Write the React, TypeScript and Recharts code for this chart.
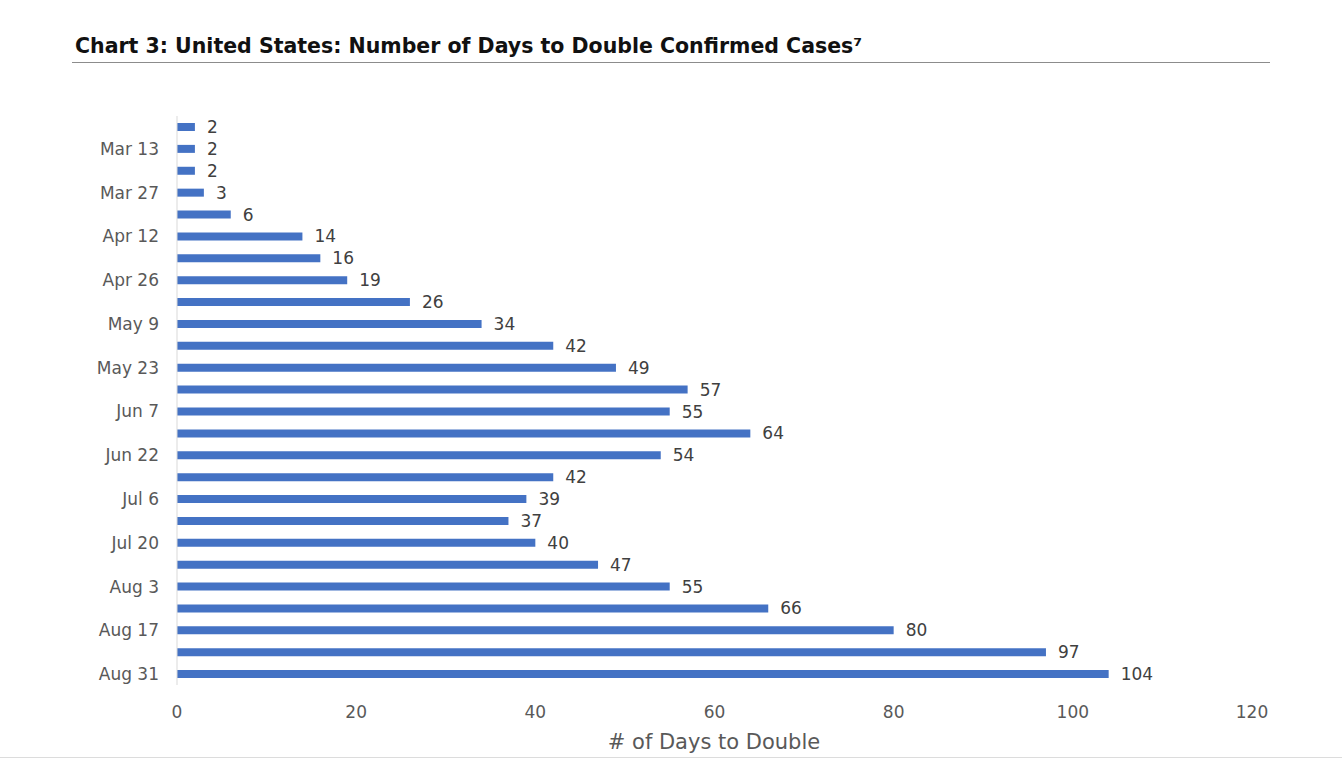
import React from "react";
import { Bar, BarChart, LabelList, XAxis, YAxis } from "recharts";

const categories = [
  "Mar 6", "Mar 13", "Mar 20", "Mar 27", "Apr 5", "Apr 12", "Apr 19", "Apr 26",
  "May 2", "May 9", "May 16", "May 23", "May 31", "Jun 7", "Jun 14", "Jun 22",
  "Jun 29", "Jul 6", "Jul 13", "Jul 20", "Jul 27", "Aug 3", "Aug 10", "Aug 17",
  "Aug 24", "Aug 31",
];

const daysToDouble = [
  2, 2, 2, 3, 6, 14, 16, 19, 26, 34, 42, 49, 57, 55, 64, 54, 42, 39, 37, 40, 47,
  55, 66, 80, 97, 104,
];

const xTicks = [0, 20, 40, 60, 80, 100, 120];

const data = categories.map((label, i) => ({ label, days: daysToDouble[i] }));

const font = "'DejaVu Sans', sans-serif";
const gray = "#595959";

const App = () => (
  <div
    style={{
      position: "absolute",
      left: 0,
      top: 0,
      width: 1342,
      height: 759,
      background: "#fff",
      fontFamily: font,
      overflow: "hidden",
    }}
  >
    <div
      style={{
        position: "absolute",
        left: 75,
        top: 34,
        fontSize: 20.5,
        fontWeight: 700,
        color: "#111",
        whiteSpace: "nowrap",
        fontFamily: font,
      }}
    >
      Chart 3: United States: Number of Days to Double Confirmed Cases⁷
    </div>
    <div
      style={{
        position: "absolute",
        left: 72,
        top: 62,
        width: 1198,
        height: 1,
        background: "#8c8c8c",
      }}
    />
    <div style={{ position: "absolute", left: 0, top: 0 }}>
      <BarChart
        width={1342}
        height={759}
        data={data}
        layout="vertical"
        margin={{ top: 116, right: 90, bottom: 0, left: 77 }}
        barSize={8}
      >
        <XAxis
          type="number"
          domain={[0, 120]}
          ticks={xTicks}
          axisLine={false}
          tickLine={false}
          tickSize={0}
          tickMargin={21}
          tick={{ fill: gray, fontSize: 17, fontFamily: font }}
          height={74}
        />
        <YAxis
          type="category"
          dataKey="label"
          width={100}
          interval={0}
          axisLine={{ stroke: "#d9d9d9", strokeWidth: 1 }}
          tickLine={false}
          tickSize={0}
          tickMargin={18}
          tick={{ fill: gray, fontSize: 17, fontFamily: font }}
          tickFormatter={(value: string, index: number) =>
            index % 2 === 1 ? value : ""
          }
        />
        <Bar dataKey="days" fill="#4472C4" isAnimationActive={false}>
          <LabelList
            dataKey="days"
            position="right"
            offset={12}
            fill="#404040"
            fontSize={17}
            fontFamily={font}
          />
        </Bar>
      </BarChart>
    </div>
    <div
      style={{
        position: "absolute",
        left: 0,
        width: 1342,
        top: 730,
        textAlign: "center",
        paddingLeft: 86,
        boxSizing: "border-box",
        fontSize: 21,
        color: gray,
      }}
    >
      # of Days to Double
    </div>
    <div
      style={{
        position: "absolute",
        left: 0,
        top: 757,
        width: 1342,
        height: 1,
        background: "#dcdcdc",
      }}
    />
  </div>
);

export default App;
